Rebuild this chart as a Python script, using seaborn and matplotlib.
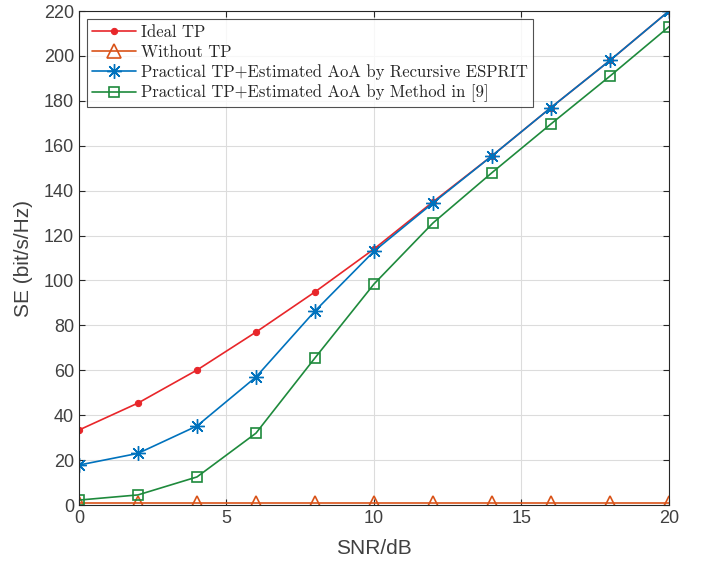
import numpy as np
import pandas as pd
import matplotlib
matplotlib.use("Agg")
import matplotlib.pyplot as plt
import seaborn as sns

snr = [0, 2, 4, 6, 8, 10, 12, 14, 16, 18, 20]
ideal_tp = [33.4, 45.4, 60.1, 77.0, 94.9, 114.0, 135.0, 155.5, 177.0, 198.0, 220.0]
without_tp = [1.0, 1.0, 1.0, 1.0, 1.0, 1.0, 1.0, 1.0, 1.0, 1.0, 1.0]
esprit = [17.8, 23.0, 35.2, 57.0, 86.4, 113.0, 134.5, 155.5, 177.0, 198.0, 220.0]
method9 = [2.2, 4.5, 12.5, 32.0, 65.5, 98.4, 125.6, 148.0, 169.7, 191.0, 213.0]
labels = ["Ideal TP", "Without TP",
          "Practical TP+Estimated AoA by Recursive ESPRIT",
          "Practical TP+Estimated AoA by Method in [9]"]

sns.set_style("white")
plt.rcParams['font.family'] = ['Liberation Sans', 'DejaVu Sans']

fig = plt.figure(figsize=(7.07, 5.70), dpi=100)
ax = fig.add_axes([0.1117, 0.114, 0.8345, 0.8667])

series = [ideal_tp, without_tp, esprit, method9]
colors = ["#E8262A", "#D95319", "#0072BD", "#1E8A3C"]
for vals, lab, c, i in zip(series, labels, colors, range(4)):
    df = pd.DataFrame({"SNR": snr, "SE": vals})
    kw = dict(color=c, linewidth=1.2, label=lab)
    if i == 0:
        kw.update(marker="o", markersize=4.5, markerfacecolor=c, markeredgecolor=c)
    elif i == 1:
        kw.update(marker="^", markersize=10.5, markerfacecolor="none",
                  markeredgecolor=c, markeredgewidth=1.2)
    elif i == 2:
        kw.update(marker=(8, 2, 0), markersize=10.5, markerfacecolor="none",
                  markeredgecolor=c, markeredgewidth=1.0)
    else:
        kw.update(marker="s", markersize=7.5, markerfacecolor="none",
                  markeredgecolor=c, markeredgewidth=1.2)
    sns.lineplot(data=df, x="SNR", y="SE", ax=ax, **kw)

ax.set_xlim(0, 20)
ax.set_ylim(0, 220)
ax.set_xticks([0, 5, 10, 15, 20])
ax.set_yticks(np.arange(0, 221, 20))
ax.grid(True, color="#DCDCDC", linewidth=0.8)
for s in ax.spines.values():
    s.set_color("#262626")
    s.set_linewidth(0.8)
ax.tick_params(direction="in", length=4, color="#262626", labelsize=13,
               labelcolor="#404040", top=True, right=True, bottom=True, left=True)
ax.set_xlabel("SNR/dB", fontsize=15, color="#404040", labelpad=9)
ax.set_ylabel("SE (bit/s/Hz)", fontsize=15, color="#404040", labelpad=8)

leg = ax.legend(loc="upper left", prop={'family': 'cmr10', 'size': 12},
                frameon=True, fancybox=False, edgecolor="#262626",
                borderaxespad=0.5, handlelength=2.6, labelspacing=0.28,
                borderpad=0.3, handletextpad=0.3)
leg.get_frame().set_linewidth(0.8)

fig.savefig("out.png", dpi=100)
